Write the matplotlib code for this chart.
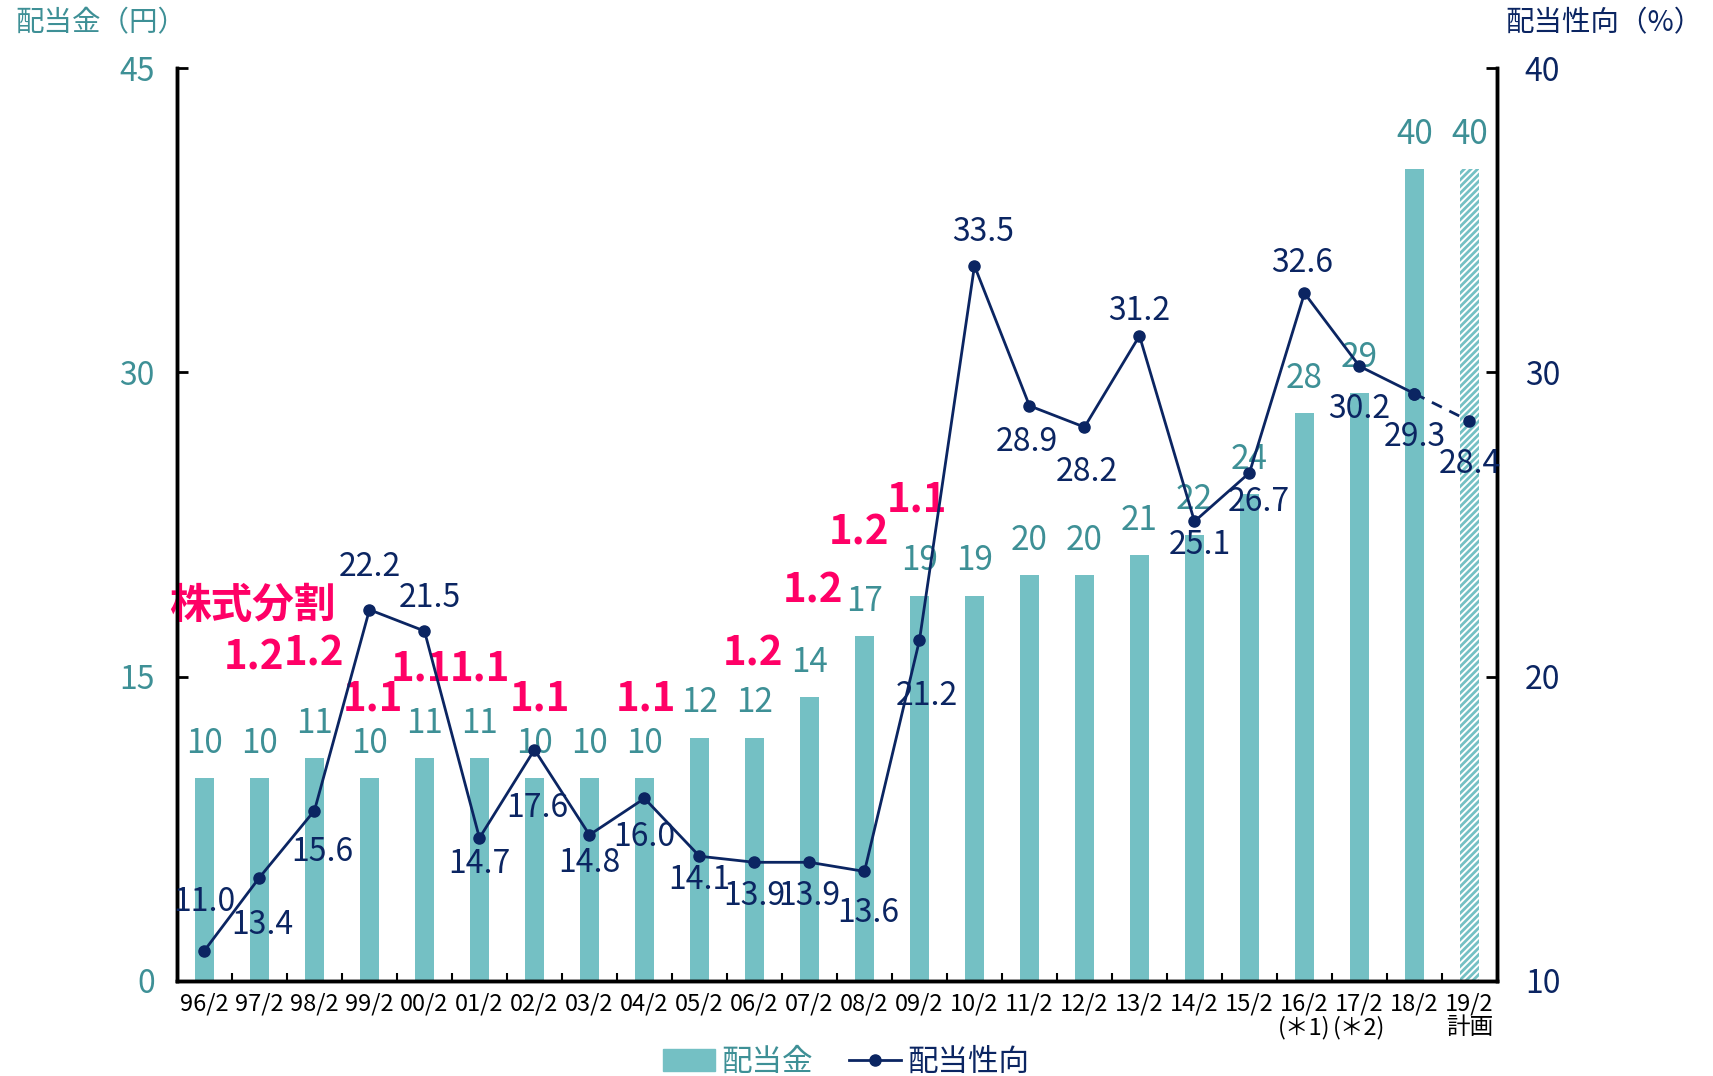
import numpy as np
import matplotlib
matplotlib.use('Agg')
import matplotlib.pyplot as plt
from matplotlib.lines import Line2D
import matplotlib.patches as mpatches

plt.rcParams['font.family'] = ['Noto Sans CJK JP', 'DejaVu Sans']
plt.rcParams['hatch.linewidth'] = 2.0

# data
years = ['96/2', '97/2', '98/2', '99/2', '00/2', '01/2', '02/2', '03/2', '04/2',
         '05/2', '06/2', '07/2', '08/2', '09/2', '10/2', '11/2', '12/2', '13/2',
         '14/2', '15/2', '16/2\n(＊1)', '17/2\n(＊2)', '18/2', '19/2\n計画']
dividend = [10, 10, 11, 10, 11, 11, 10, 10, 10, 12, 12, 14, 17, 19, 19, 20, 20,
            21, 22, 24, 28, 29, 40, 40]
payout = [11.0, 13.4, 15.6, 22.2, 21.5, 14.7, 17.6, 14.8, 16.0, 14.1, 13.9, 13.9,
          13.6, 21.2, 33.5, 28.9, 28.2, 31.2, 25.1, 26.7, 32.6, 30.2, 29.3, 28.4]
split_idx = [1, 2, 3, 4, 5, 6, 8, 10, 11, 12, 13]
split_ratio = ['1.2', '1.2', '1.1', '1.1', '1.1', '1.1', '1.1', '1.2', '1.2', '1.2', '1.1']

# label placement
split_y = [15.9, 16.1, 13.9, 15.4, 15.4, 13.9, 13.9, 16.1, 19.2, 22.1, 23.7]
split_dx = [-0.1, 0.0, 0.06, -0.06, 0.0, 0.1, 0.02, -0.02, 0.06, -0.1, -0.05]
pay_off = [(0, 35), (2, -34), (6, -30), (0, 31), (4, 24), (0, -19), (2, -42),
           (0, -20), (0, -28), (0, -17), (0, -24), (0, -24), (3, -30), (5, -40),
           (6, 24), (-2, -26), (2, -32), (0, 18), (4, -17), (7, -21), (-2, 22),
           (0, -31), (0, -31), (0, -31)]

teal = '#74c0c4'
teal_txt = '#3e9096'
navy = '#0b2562'
red = '#ff0066'

fig = plt.figure(figsize=(17.13, 10.76), dpi=100)
ax = fig.add_axes([0.1033, 0.0883, 0.7706, 0.8485])
ax2 = ax.twinx()

x = np.arange(len(years))
ax.bar(x[:-1], dividend[:-1], width=0.34, color=teal, zorder=2)
ax.bar(x[-1], dividend[-1], width=0.34, facecolor='white', edgecolor=teal,
       hatch='/////', linewidth=0, zorder=2)

for i, v in enumerate(dividend):
    ax.annotate(str(v), (x[i], v), xytext=(0, 25), textcoords='offset points',
                ha='center', va='center', fontsize=24, color=teal_txt)

for k, i in enumerate(split_idx):
    ax.text(x[i] + split_dx[k], split_y[k], split_ratio[k], ha='center', va='center',
            fontsize=29, fontweight='bold', color=red)
ax.text(0.87, 18.5, '株式分割', ha='center', va='center', fontsize=30,
        fontweight='bold', color=red)

ax2.plot(x[:-1], payout[:-1], color=navy, lw=2, marker='o', ms=8, zorder=3)
ax2.plot(x[-2:], payout[-2:], color=navy, lw=2, ls=(0, (4, 3)), marker='o', ms=8, zorder=3)
for i, v in enumerate(payout):
    ax2.annotate('%.1f' % v, (x[i], v), xytext=pay_off[i], textcoords='offset points',
                 ha='center', va='center', fontsize=23, color=navy)

ax.set_xlim(-0.5, len(years) - 0.5)
ax.set_ylim(0, 45)
ax2.set_ylim(10, 40)
ax.set_yticks([0, 15, 30, 45])
ax2.set_yticks([10, 20, 30, 40])

ax.set_xticks(x)
ax.set_xticklabels(years, fontsize=17, linespacing=1.05)
ax.set_xticks(x[:-1] + 0.5, minor=True)
ax.tick_params(axis='x', which='major', length=0, pad=8)
ax.tick_params(axis='x', which='minor', direction='in', length=6, width=1.5)
ax.tick_params(axis='y', direction='in', length=8, width=2, labelsize=23,
               labelcolor=teal_txt, pad=16)
ax2.tick_params(axis='y', direction='in', length=8, width=2, labelsize=23,
                labelcolor=navy, pad=20)

for a in (ax, ax2):
    a.spines['top'].set_visible(False)
    for s in ('left', 'right', 'bottom'):
        a.spines[s].set_linewidth(2.5)
        a.spines[s].set_color('black')

fig.text(0.009, 0.978, '配当金（円）', fontsize=20.5, color=teal_txt, ha='left', va='center')
fig.text(0.994, 0.978, '配当性向（%）', fontsize=20.5, color=navy, ha='right', va='center')

handles = [mpatches.Patch(color=teal, label='配当金'),
           Line2D([], [], color=navy, lw=2, marker='o', ms=8, label='配当性向')]
leg = fig.legend(handles=handles, loc='center', bbox_to_anchor=(0.494, 0.013),
                 ncol=2, frameon=False, fontsize=22, handlelength=1.7,
                 handletextpad=0.2, columnspacing=1.2)
leg.get_texts()[0].set_color(teal_txt)
leg.get_texts()[1].set_color(navy)

fig.savefig('out.png', dpi=100)
